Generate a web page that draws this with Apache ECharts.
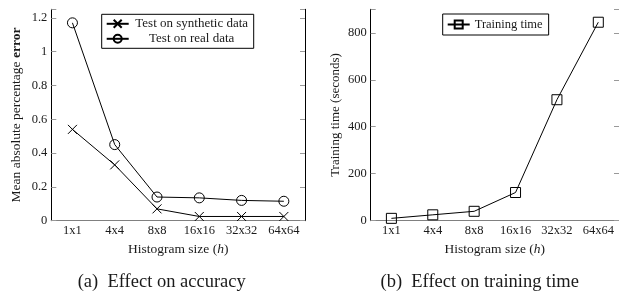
<!DOCTYPE html>
<html>
<head>
<meta charset="UTF-8">
<title>Histogram size</title>
<script src="https://cdn.jsdelivr.net/npm/echarts@6/dist/echarts.min.js"></script>
<style>
  html, body { margin: 0; padding: 0; background: #fff; }
  #chart { width: 619px; height: 293px; }
</style>
</head>
<body>
<div id="chart"></div>
<script>
// data
var sizes = ['1x1', '4x4', '8x8', '16x16', '32x32', '64x64'];
var synthErr = [0.54, 0.33, 0.07, 0.025, 0.025, 0.025];
var realErr = [1.17, 0.45, 0.14, 0.135, 0.12, 0.115];
var trainTime = [10, 25, 40, 120, 515, 845];

var FONT = 'Liberation Serif';
var INK = '#1a1a1a';
var crossPath = 'path://M0,0L10,10M0,10L10,0';

var chart = echarts.init(document.getElementById('chart'));

function bottomAxis(grid) {
    return {
        type: 'category', gridIndex: grid, position: 'bottom', data: sizes,
        axisLine: { lineStyle: { color: '#000', width: 1 } },
        axisTick: { inside: true, alignWithLabel: true, length: 5, lineStyle: { color: '#999' } },
        axisLabel: { color: INK, fontFamily: FONT, fontSize: 12.5, margin: 4 },
        name: '{n|Histogram size (}{i|h}{n|)}',
        nameLocation: 'middle', nameGap: 20,
        nameTextStyle: {
            rich: {
                n: { fontFamily: FONT, fontSize: 13.5, color: INK },
                i: { fontFamily: FONT, fontSize: 13.5, color: INK, fontStyle: 'italic' }
            }
        }
    };
}
function topAxis(grid) {
    return {
        type: 'category', gridIndex: grid, position: 'top', data: sizes,
        axisLine: { lineStyle: { color: '#808080', width: 1 } },
        axisTick: { inside: true, alignWithLabel: true, length: 5, lineStyle: { color: '#999' } },
        axisLabel: { show: false }
    };
}
function fmtErr(v) {
    var k = v / 0.2;
    if (Math.abs(k - Math.round(k)) > 1e-6) return '';
    return String(+v.toFixed(1));
}
function fmtTime(v) {
    return v % 200 === 0 ? String(v) : '';
}

var option = {
    animation: false,
    backgroundColor: '#fff',
    grid: [
        { left: 51.3, top: 9.3, width: 253.7, height: 211.4 },
        { left: 370.7, top: 9.3, width: 253.2, height: 211.4 }
    ],
    xAxis: [bottomAxis(0), topAxis(0), bottomAxis(1), topAxis(1)],
    yAxis: [
        {
            type: 'value', gridIndex: 0, position: 'left', min: 0, max: 1.25, interval: 0.2,
            splitLine: { show: false },
            axisLine: { show: true, lineStyle: { color: '#000' } },
            axisTick: { show: true, inside: true, length: 5, lineStyle: { color: '#999' } },
            axisLabel: { color: INK, fontFamily: FONT, fontSize: 12.5, margin: 4, formatter: fmtErr },
            name: '{n|Mean absolute percentage }{b|error}',
            nameLocation: 'middle', nameGap: 28, nameRotate: 90,
            nameTextStyle: {
                rich: {
                    n: { fontFamily: FONT, fontSize: 13.5, color: INK },
                    b: { fontFamily: FONT, fontSize: 13.5, color: INK, fontWeight: 'bold' }
                }
            }
        },
        {
            type: 'value', gridIndex: 0, position: 'right', min: 0, max: 1.25, interval: 0.2,
            splitLine: { show: false },
            axisLine: { show: true, lineStyle: { color: '#000' } },
            axisTick: { show: true, inside: true, length: 5, lineStyle: { color: '#999' } },
            axisLabel: { show: false }
        },
        {
            type: 'value', gridIndex: 1, position: 'left', min: 0, max: 900, interval: 200,
            splitLine: { show: false },
            axisLine: { show: true, lineStyle: { color: '#000' } },
            axisTick: { show: true, inside: true, length: 5, lineStyle: { color: '#999' } },
            axisLabel: { color: INK, fontFamily: FONT, fontSize: 12.5, margin: 4, formatter: fmtTime },
            name: 'Training time (seconds)',
            nameLocation: 'middle', nameGap: 29, nameRotate: 90,
            nameTextStyle: { fontFamily: FONT, fontSize: 13, color: INK }
        },
        {
            type: 'value', gridIndex: 1, position: 'right', min: 0, max: 900, interval: 200,
            splitLine: { show: false },
            axisLine: { show: true, lineStyle: { color: '#000' } },
            axisTick: { show: true, inside: true, length: 5, lineStyle: { color: '#999' } },
            axisLabel: { show: false }
        }
    ],
    legend: [
        {
            data: ['Test on synthetic data', 'Test on real data'],
            orient: 'vertical', left: 101.7, top: 14.3,
            padding: [3, 4, 3, 4], itemGap: 2, itemWidth: 22, itemHeight: 10,
            borderColor: '#000', borderWidth: 1,
            formatter: function (name) { return '{t|' + name + '}'; },
            textStyle: {
                color: INK, fontFamily: FONT, fontSize: 13,
                rich: { t: { width: 116, align: 'center', fontFamily: FONT, fontSize: 13, color: INK, lineHeight: 15 } }
            }
        },
        {
            data: ['Training time'],
            left: 442.7, top: 14,
            padding: [3, 6, 3, 4], itemWidth: 22, itemHeight: 10,
            borderColor: '#000', borderWidth: 1,
            textStyle: { color: INK, fontFamily: FONT, fontSize: 12.5, lineHeight: 15 }
        }
    ],
    series: [
        {
            name: 'Test on synthetic data', type: 'line', xAxisIndex: 0, yAxisIndex: 0,
            data: synthErr, symbol: crossPath, symbolSize: 9,
            lineStyle: { color: '#000', width: 1 },
            itemStyle: { color: 'transparent', borderColor: '#000', borderWidth: 1 }
        },
        {
            name: 'Test on real data', type: 'line', xAxisIndex: 0, yAxisIndex: 0,
            data: realErr, symbol: 'circle', symbolSize: 10,
            lineStyle: { color: '#000', width: 1 },
            itemStyle: { color: 'transparent', borderColor: '#000', borderWidth: 1 }
        },
        {
            name: 'Training time', type: 'line', xAxisIndex: 2, yAxisIndex: 2,
            data: trainTime, symbol: 'rect', symbolSize: 10,
            lineStyle: { color: '#000', width: 1 },
            itemStyle: { color: 'transparent', borderColor: '#000', borderWidth: 1 }
        }
    ],
    graphic: [
        {
            type: 'text', x: 161.7, y: 281.7,
            style: { text: '(a)  Effect on accuracy', fontFamily: FONT, fontSize: 18.5, fill: INK, align: 'center', verticalAlign: 'middle' }
        },
        {
            type: 'text', x: 479.7, y: 281.7,
            style: { text: '(b)  Effect on training time', fontFamily: FONT, fontSize: 18.5, fill: INK, align: 'center', verticalAlign: 'middle' }
        }
    ]
};

chart.setOption(option);
</script>
</body>
</html>
